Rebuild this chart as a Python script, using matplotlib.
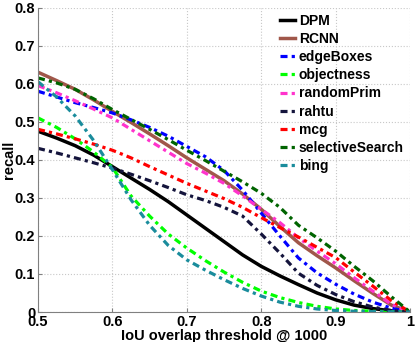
import matplotlib
matplotlib.use("Agg")
import matplotlib.pyplot as plt

plt.rcParams['font.family'] = ['Liberation Sans', 'DejaVu Sans']
plt.rcParams['font.weight'] = 'bold'

iou = [0.5, 0.525, 0.55, 0.575, 0.6, 0.625, 0.65, 0.675, 0.7, 0.725, 0.75,
       0.775, 0.8, 0.825, 0.85, 0.875, 0.9, 0.925, 0.95, 0.975, 1.0]

dpm        = [.475, .457, .437, .412, .382, .352, .322, .290, .255, .220, .185,
              .150, .120, .095, .072, .050, .032, .018, .009, .003, 0]
rcnn       = [.630, .608, .585, .557, .527, .498, .468, .437, .405, .375, .345,
              .310, .270, .225, .182, .148, .116, .082, .049, .018, 0]
edgeboxes  = [.580, .565, .550, .537, .523, .505, .485, .462, .435, .408, .372,
              .320, .260, .200, .142, .103, .073, .047, .026, .010, 0]
objectness = [.510, .485, .455, .420, .380, .305, .252, .205, .168, .135, .105,
              .078, .055, .038, .025, .015, .008, .004, .002, .001, 0]
randomprim = [.595, .576, .555, .533, .510, .480, .450, .420, .390, .365, .338,
              .305, .270, .235, .195, .160, .127, .090, .055, .020, 0]
rahtu      = [.430, .418, .405, .392, .378, .362, .345, .327, .308, .293, .275,
              .252, .205, .155, .102, .070, .046, .027, .013, .004, 0]
mcg        = [.480, .468, .455, .441, .425, .405, .382, .360, .338, .318, .298,
              .275, .248, .222, .197, .170, .143, .105, .068, .030, 0]
selsearch  = [.615, .602, .585, .560, .532, .506, .480, .453, .425, .398, .370,
              .342, .312, .275, .228, .195, .160, .120, .082, .040, 0]
bing       = [.605, .565, .515, .450, .374, .295, .228, .175, .137, .110, .085,
              .062, .042, .026, .015, .008, .004, .002, .001, .0005, 0]

names = ['DPM', 'RCNN', 'edgeBoxes', 'objectness', 'randomPrim', 'rahtu', 'mcg',
         'selectiveSearch', 'bing']
series = [dpm, rcnn, edgeboxes, objectness, randomprim, rahtu, mcg, selsearch, bing]
colors = ['black', '#a0574a', '#0000ff', '#00ff00', '#ff33cc', '#14143c', '#ff0000',
          '#006400', '#1a8c9c']

fig = plt.figure(figsize=(4.15, 3.42), dpi=100)
ax = fig.add_axes([0.0916, 0.0877, 0.8964, 0.8903])

for i in range(len(series)):
    if i < 2:
        ax.plot(iou, series[i], color=colors[i], lw=2.5, ls='-', label=names[i])
    else:
        ax.plot(iou, series[i], color=colors[i], lw=2.3, ls=(0, (2.2, 1.3, 1.0, 1.3)),
                label=names[i])

ax.set_xlim(0.5, 1.0)
ax.set_ylim(0, 0.8)
ax.set_xticks([0.5, 0.6, 0.7, 0.8, 0.9, 1.0])
ax.set_xticklabels(['0.5', '0.6', '0.7', '0.8', '0.9', '1'])
ax.set_yticks([0, 0.1, 0.2, 0.3, 0.4, 0.5, 0.6, 0.7, 0.8])
ax.set_yticklabels(['0', '0.1', '0.2', '0.3', '0.4', '0.5', '0.6', '0.7', '0.8'])
ax.tick_params(direction='in', labelsize=10.5, length=3, color='#808080', pad=2)
ax.grid(True, ls=':', color='#c8c8c8', lw=0.8)
for s in ['top', 'right']:
    ax.spines[s].set_visible(False)
for s in ['left', 'bottom']:
    ax.spines[s].set_color('#808080')

ax.set_xlabel('IoU overlap threshold @ 1000', fontsize=10.5, fontweight='bold', labelpad=0)
ax.set_ylabel('recall', fontsize=10.5, fontweight='bold')
ax.yaxis.set_label_coords(-0.058, 0.5)

leg = ax.legend(loc='upper right', frameon=False, fontsize=10, handlelength=1.1,
                handletextpad=0.25, labelspacing=0.3, borderaxespad=0.05)

fig.savefig('out.png', dpi=100)
